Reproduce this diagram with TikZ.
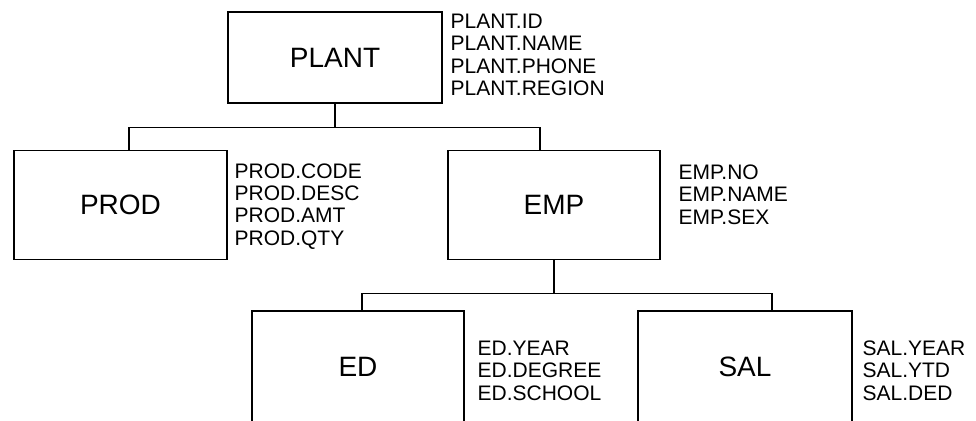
\documentclass[tikz,border=0pt]{standalone}
\usepackage{fontspec}
\setmainfont{Liberation Sans}
\usetikzlibrary{calc}

\begin{document}
\begin{tikzpicture}[x=1pt, y=-1pt, line width=1.2pt,
    entity/.style={draw, inner sep=0pt, font=\fontsize{28}{32}\selectfont},
    attrs/.style={anchor=base west, align=left, inner sep=0pt,
      font=\fontsize{21}{22.3}\selectfont}]
  \useasboundingbox (0,0) rectangle (976,420);
  \clip (0,0) rectangle (976,420);
  % record boxes
  \node[entity, minimum width=214pt, minimum height=91pt]  (plant) at (335,57.5) {PLANT};
  \node[entity, minimum width=213pt, minimum height=109pt] (prod)  at (120.5,205) {PROD};
  \node[entity, minimum width=212pt, minimum height=109pt] (emp)   at (554,205)   {EMP};
  \node[entity, minimum width=212pt, minimum height=112pt] (ed)    at (358,367)   {ED};
  \node[entity, minimum width=214pt, minimum height=112pt] (sal)   at (745,367)   {SAL};
  % field lists (placed by the baseline of their last line)
  \node[attrs] (plantf) at (450,95.5) {PLANT.ID\\PLANT.NAME\\PLANT.PHONE\\PLANT.REGION};
  \node[attrs] (prodf)  at (234,245)  {PROD.CODE\\PROD.DESC\\PROD.AMT\\PROD.QTY};
  \node[attrs] (empf)   at (678,224)  {EMP.NO\\EMP.NAME\\EMP.SEX};
  \node[attrs] (edf)    at (477,400)  {ED.YEAR\\ED.DEGREE\\ED.SCHOOL};
  \node[attrs] (salf)   at (862,400)  {SAL.YEAR\\SAL.YTD\\SAL.DED};
  % links
  \draw (plant.south) -- ++(0,24) -| ([xshift=8.5pt]prod.north);
  \draw (plant.south) ++(0,24) -| ([xshift=-14pt]emp.north);
  \draw (emp.south) -- ++(0,33) -| ([xshift=4pt]ed.north);
  \draw (emp.south) ++(0,33) -| ([xshift=27pt]sal.north);
\end{tikzpicture}
\end{document}
